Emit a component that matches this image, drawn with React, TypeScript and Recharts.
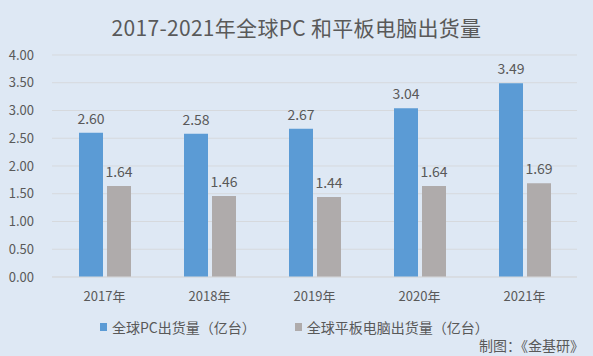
import { Bar, BarChart, CartesianGrid, LabelList, XAxis, YAxis } from 'recharts'

const years = ['2017年', '2018年', '2019年', '2020年', '2021年']
const pcShipments = [2.6, 2.58, 2.67, 3.04, 3.49]
const tabletShipments = [1.64, 1.46, 1.44, 1.64, 1.69]
const yTicks = [0, 0.5, 1, 1.5, 2, 2.5, 3, 3.5, 4]

const PC_NAME = '全球PC出货量（亿台）'
const TABLET_NAME = '全球平板电脑出货量（亿台）'

const BLUE = '#5b9bd5'
const GRAY = '#afabab'
const TEXT = '#595959'
const BG = '#dee8f4'
const FONT = '"Noto Sans CJK SC", "Noto Sans", sans-serif'

const data = years.map((year, i) => ({
  year,
  pc: pcShipments[i],
  tablet: tabletShipments[i],
}))

const fmt = (v: unknown) => Number(v).toFixed(2)

export default function App() {
  return (
    <div
      style={{
        position: 'absolute',
        left: 0,
        top: 0,
        width: 593,
        height: 356,
        background: BG,
        fontFamily: FONT,
        color: TEXT,
      }}
    >
      <div
        style={{
          position: 'absolute',
          top: 12,
          left: 0,
          width: 593,
          textAlign: 'center',
          fontSize: 21,
          lineHeight: '30px',
          letterSpacing: 0.3,
        }}
      >
        2017-2021年全球PC 和平板电脑出货量
      </div>

      <BarChart
        width={593}
        height={356}
        data={data}
        margin={{ top: 55, right: 16, left: 0, bottom: 49 }}
        style={{ position: 'absolute', left: 0, top: 0, fontFamily: FONT }}
      >
        <CartesianGrid vertical={false} stroke="#d6d9dd" />
        <XAxis
          dataKey="year"
          height={30}
          tickLine={false}
          tickSize={0}
          tickMargin={15}
          axisLine={{ stroke: '#d6d9dd' }}
          tick={{ fill: TEXT, fontSize: 13 }}
        />
        <YAxis
          width={52}
          domain={[0, 4]}
          ticks={yTicks}
          tickFormatter={fmt}
          axisLine={false}
          tickLine={false}
          tickSize={0}
          tickMargin={18}
          tick={{ fill: TEXT, fontSize: 13 }}
        />
        <Bar dataKey="pc" name={PC_NAME} fill={BLUE} barSize={24} isAnimationActive={false}>
          <LabelList dataKey="pc" position="top" offset={9} formatter={fmt} fill={TEXT} fontSize={14} />
        </Bar>
        <Bar dataKey="tablet" name={TABLET_NAME} fill={GRAY} barSize={24} isAnimationActive={false}>
          <LabelList dataKey="tablet" position="top" offset={9} formatter={fmt} fill={TEXT} fontSize={14} />
        </Bar>
      </BarChart>

      <div
        style={{
          position: 'absolute',
          top: 317,
          left: 100,
          display: 'flex',
          alignItems: 'center',
          fontSize: 14,
          lineHeight: '20px',
        }}
      >
        <span style={{ width: 7, height: 8, background: BLUE, marginRight: 5 }} />
        <span>{PC_NAME}</span>
        <span style={{ width: 7, height: 8, background: GRAY, marginLeft: 39, marginRight: 5 }} />
        <span>{TABLET_NAME}</span>
      </div>

      <div
        style={{
          position: 'absolute',
          top: 335,
          right: 9,
          fontSize: 14,
          lineHeight: '20px',
        }}
      >
        制图：《金基研》
      </div>
    </div>
  )
}
